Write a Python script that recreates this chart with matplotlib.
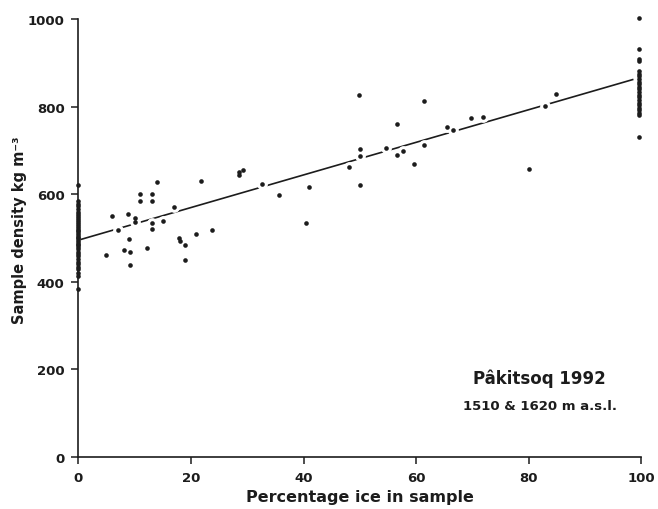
import matplotlib.pyplot as plt
import numpy as np

# samples with no ice (x = 0)
zero_ice_density = [621, 585, 578, 572, 566, 560, 555, 550, 546, 541, 537, 532, 528,
                    523, 519, 515, 511, 507, 503, 499, 495, 491, 487, 483, 479, 474,
                    469, 464, 458, 452, 446, 440, 434, 428, 421, 414, 384]

# samples of pure ice (plotted on the 100 line)
full_ice_density = [1002, 932, 909, 903, 882, 875, 869, 863, 857, 851, 845, 839, 833,
                    827, 821, 815, 809, 803, 797, 791, 785, 780, 730]

# mixed samples
mixed_pct = [13.9, 10.9, 10.9, 13.1, 13.1, 16.9, 5.95, 8.85, 10.0, 10.1, 13.0, 15.0,
             7.0, 13.1, 20.8, 9.0, 17.9, 18.0, 18.9, 12.1, 8.0, 9.1, 4.9, 18.9, 9.1,
             21.7, 28.6, 29.3, 28.5, 32.6, 35.6, 41.0, 40.5, 48.0, 23.7,
             49.8, 61.4, 56.6, 69.7, 71.9, 65.5, 66.6, 50.0, 50.0, 54.7, 56.7, 57.7,
             61.5, 59.6, 50.1, 80.1, 84.8, 83.0]
mixed_density = [628, 600, 584, 600, 585, 571, 550, 555, 546, 537, 535, 538,
                 519, 520, 509, 497, 499, 492, 484, 478, 473, 467, 460, 450, 438,
                 629, 651, 656, 644, 622, 597, 616, 534, 661, 518,
                 826, 812, 760, 774, 776, 753, 747, 702, 686, 705, 690, 698,
                 713, 669, 620, 657, 829, 802]

# regression line
fit_intercept = 495
fit_slope = 3.72
fit_x = np.array([0.5, 98.5])

x_all = [0] * len(zero_ice_density) + mixed_pct + [99.6] * len(full_ice_density)
y_all = zero_ice_density + mixed_density + full_ice_density

ink = '#1c1c1c'

fig = plt.figure(figsize=(6.58, 5.10), dpi=100)
ax = fig.add_axes([0.1193, 0.102, 0.855, 0.859])

ax.plot(fit_x, fit_intercept + fit_slope * fit_x, color=ink, lw=1.2, zorder=1)
# white halos give the little gaps in the line where points sit on it
ax.scatter(mixed_pct, mixed_density, s=45, color='white', zorder=1.5, clip_on=False)
ax.scatter(x_all, y_all, s=11, color=ink, zorder=3, clip_on=False, linewidths=0)

ax.set_xlim(0, 100)
ax.set_ylim(0, 1000)
ax.set_xticks([0, 20, 40, 60, 80, 100])
ax.set_yticks([0, 200, 400, 600, 800, 1000])

for s in ['top', 'right']:
    ax.spines[s].set_visible(False)
for s in ['left', 'bottom']:
    ax.spines[s].set_linewidth(1.2)
    ax.spines[s].set_color(ink)

ax.tick_params(direction='out', length=5, width=1.1, colors=ink, pad=5)
for lab in ax.get_xticklabels() + ax.get_yticklabels():
    lab.set_fontweight('bold')
    lab.set_fontsize(9.5)

ax.set_xlabel('Percentage ice in sample', fontsize=11.5, fontweight='bold', color=ink, labelpad=4)
ax.set_ylabel('Sample density kg m⁻³', fontsize=10.5, fontweight='bold', color=ink, labelpad=2)
ax.yaxis.set_label_coords(-0.092, 0.52)

ax.text(82, 180, 'Pâkitsoq 1992', ha='center', va='center', fontsize=12, fontweight='bold', color=ink)
ax.text(82, 118, '1510 & 1620 m a.s.l.', ha='center', va='center', fontsize=9.5, fontweight='bold', color=ink)

fig.savefig('out.png', dpi=100, facecolor='white')
